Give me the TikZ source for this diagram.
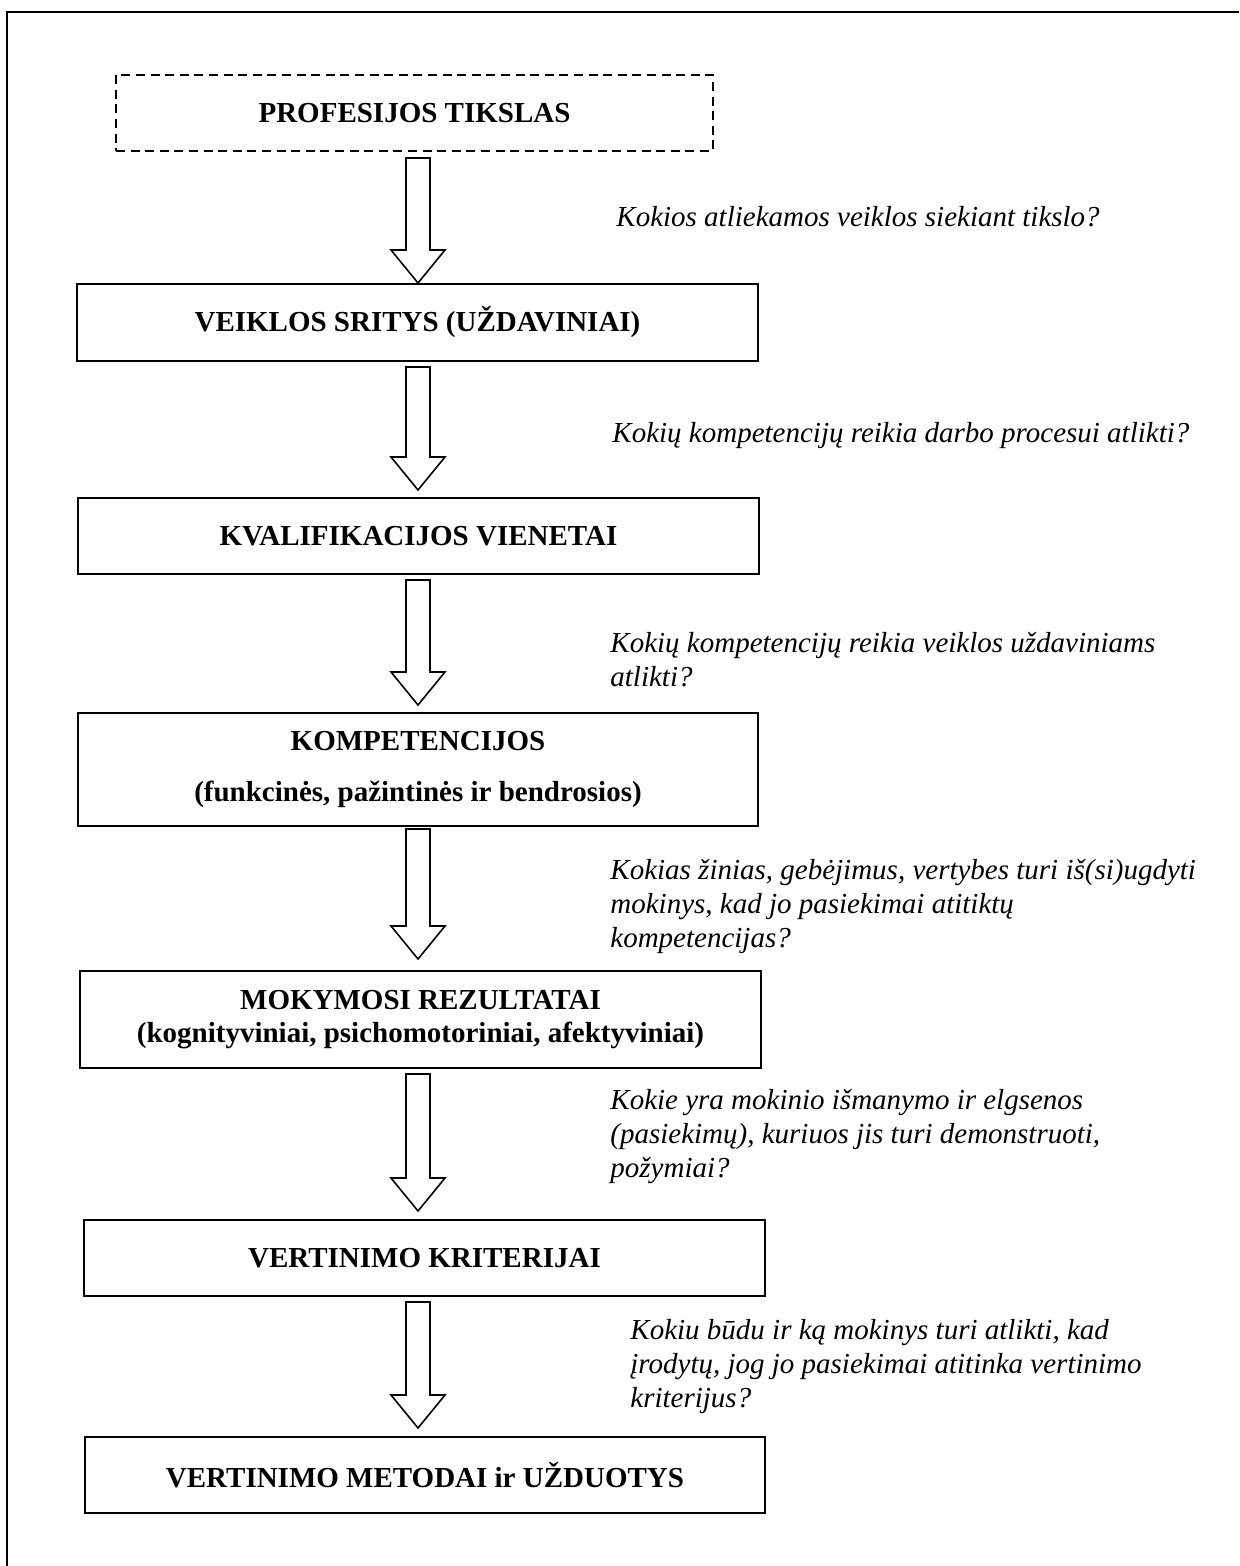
\documentclass[tikz,border=0pt]{standalone}
\usepackage{fontspec}
\setmainfont{Liberation Serif}
\usetikzlibrary{calc}

\newcommand\boxfont{\fontsize{14.5}{17}\selectfont\bfseries}
\newcommand\askfont{\fontsize{14.5}{17}\selectfont\itshape}

% hollow block arrow from #1 (top of the shaft) down to #2 (the tip)
\newcommand\blockarrow[2]{%
  \draw[hollowarrow] let \p1=(#1), \p2=(#2) in
    (\x1-6pt,\y1) -- (\x1-6pt,\y2+16.5pt) -- (\x1-13.5pt,\y2+16.5pt)
    -- (\x1,\y2) -- (\x1+13.5pt,\y2+16.5pt) -- (\x1+6pt,\y2+16.5pt)
    -- (\x1+6pt,\y1) -- cycle;}

\tikzset{
  stagebox/.style 2 args={draw, line width=1pt, minimum width=#1,
    minimum height=#2, inner sep=0pt, align=center, font=\boxfont},
  goalbox/.style 2 args={stagebox={#1}{#2}, dash pattern=on 4.5pt off 2.8pt},
  question/.style={anchor=north west, inner sep=0pt, align=left, font=\askfont},
  hollowarrow/.style={draw, line width=0.8pt, fill=white, line join=miter},
  frame/.style={line width=1.25pt}
}

\begin{document}
\begin{tikzpicture}[x=0.5pt, y=-0.5pt]
\useasboundingbox (0,0) rectangle (1239,1566);

% page frame (top and left edges)
\draw[frame] (7,1566) -- (7,12) -- (1239,12);

% stages
\node[goalbox={298.5pt}{38pt}] (b1) at (414.5,113) {PROFESIJOS TIKSLAS};
\node[stagebox={340.5pt}{38.5pt}] (b2) at (417.5,322.5) {VEIKLOS SRITYS (UŽDAVINIAI)};
\node[stagebox={340.5pt}{38pt}] (b3) at (418.5,536) {KVALIFIKACIJOS VIENETAI};
\node[stagebox={340pt}{56.5pt}] (b4) at (418,769.5)
  {KOMPETENCIJOS\\[8.5pt](funkcinės, pažintinės ir bendrosios)};
\node[stagebox={340.5pt}{48.5pt}] (b5) at (420.5,1019.5)
  {MOKYMOSI REZULTATAI\\[-0.5pt](kognityviniai, psichomotoriniai, afektyviniai)};
\node[stagebox={340.5pt}{38pt}] (b6) at (424.5,1258) {VERTINIMO KRITERIJAI};
\node[stagebox={340pt}{38pt}] (b7) at (425,1475) {VERTINIMO METODAI ir UŽDUOTYS};

% arrow axis
\coordinate (ax) at (418,0);

\coordinate (a1s) at ($(b1.south -| ax)+(0,6)$);
\coordinate (a1e) at ($(b2.north -| ax)$);
\coordinate (a2s) at ($(b2.south -| ax)+(0,5)$);
\coordinate (a2e) at ($(b3.north -| ax)+(0,-7)$);
\coordinate (a3s) at ($(b3.south -| ax)+(0,5)$);
\coordinate (a3e) at ($(b4.north -| ax)+(0,-7)$);
\coordinate (a4s) at ($(b4.south -| ax)+(0,2)$);
\coordinate (a4e) at ($(b5.north -| ax)+(0,-11)$);
\coordinate (a5s) at ($(b5.south -| ax)+(0,5)$);
\coordinate (a5e) at ($(b6.north -| ax)+(0,-8)$);
\coordinate (a6s) at ($(b6.south -| ax)+(0,5)$);
\coordinate (a6e) at ($(b7.north -| ax)+(0,-8)$);

\blockarrow{a1s}{a1e}
\blockarrow{a2s}{a2e}
\blockarrow{a3s}{a3e}
\blockarrow{a4s}{a4e}
\blockarrow{a5s}{a5e}
\blockarrow{a6s}{a6e}

% guiding questions
\node[question] (q1) at (616,202) {\strut Kokios atliekamos veiklos siekiant tikslo?};
\node[question] (q2) at (612,418) {\strut Kokių kompetencijų reikia darbo procesui atlikti?};
\node[question] (q3) at (610,628) {\strut Kokių kompetencijų reikia veiklos uždaviniams\\atlikti?};
\node[question] (q4) at (610,855) {\strut Kokias žinias, gebėjimus, vertybes turi iš(si)ugdyti\\mokinys, kad jo pasiekimai atitiktų\\kompetencijas?};
\node[question] (q5) at (610,1085) {\strut Kokie yra mokinio išmanymo ir elgsenos\\(pasiekimų), kuriuos jis turi demonstruoti,\\požymiai?};
\node[question] (q6) at (630,1315) {\strut Kokiu būdu ir ką mokinys turi atlikti, kad\\įrodytų, jog jo pasiekimai atitinka vertinimo\\kriterijus?};
\end{tikzpicture}
\end{document}
